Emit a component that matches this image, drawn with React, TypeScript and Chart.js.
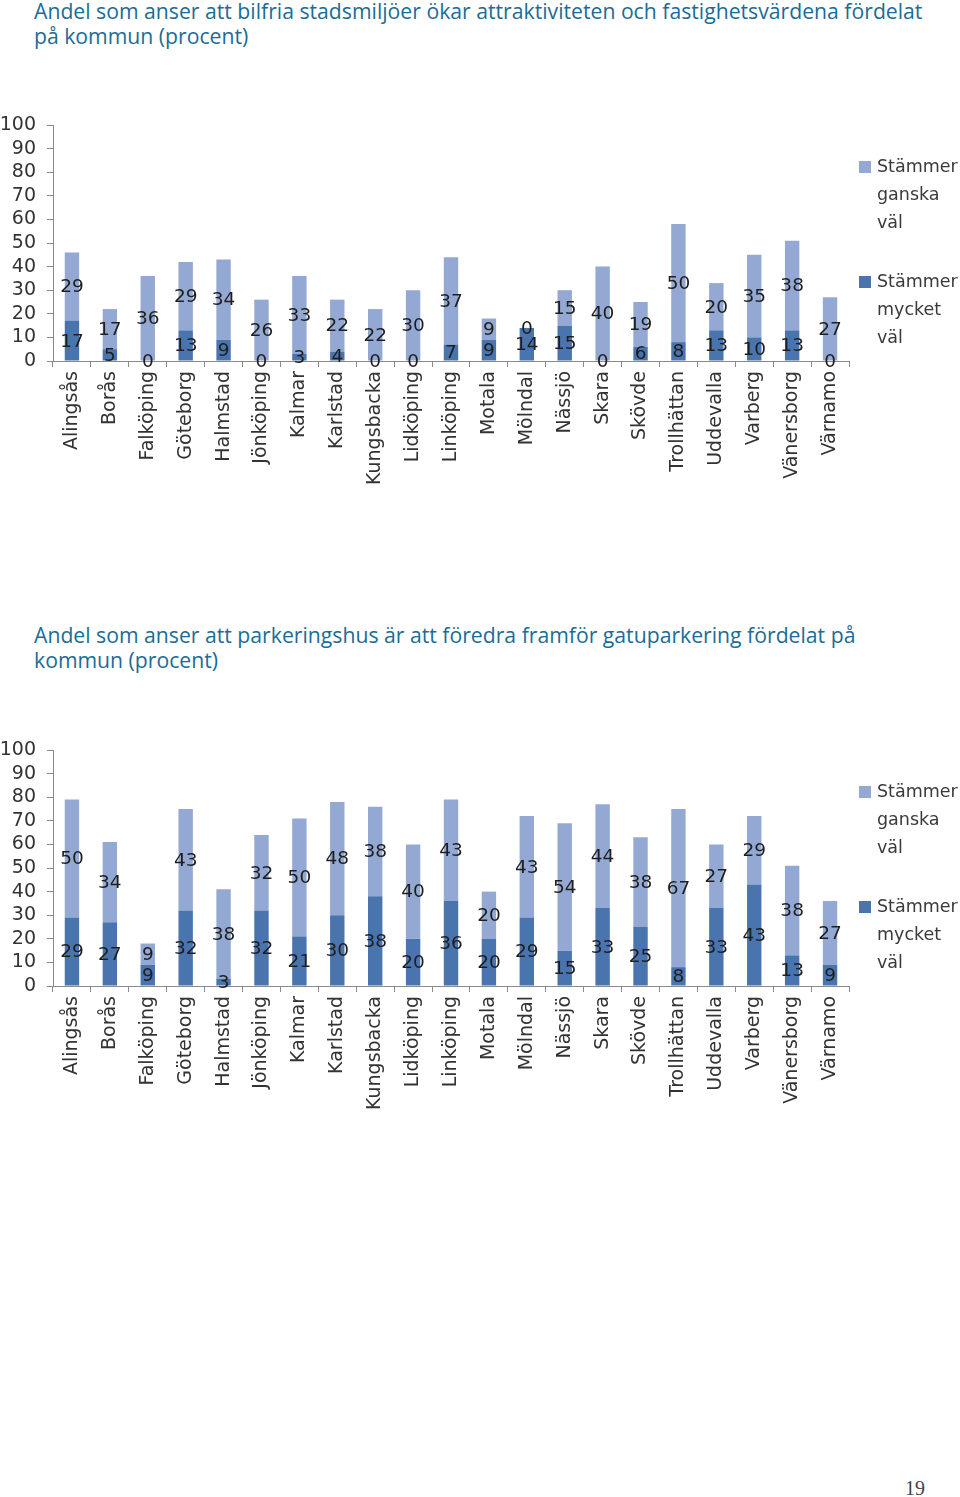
import React, { useEffect, useRef } from "react";
import { Chart, registerables } from "chart.js";

Chart.register(...registerables);

const categories = [
  "Alingsås", "Borås", "Falköping", "Göteborg", "Halmstad", "Jönköping", "Kalmar",
  "Karlstad", "Kungsbacka", "Lidköping", "Linköping", "Motala", "Mölndal", "Nässjö",
  "Skara", "Skövde", "Trollhättan", "Uddevalla", "Varberg", "Vänersborg", "Värnamo",
];

const bilfriaMycket = [17, 5, 0, 13, 9, 0, 3, 4, 0, 0, 7, 9, 14, 15, 0, 6, 8, 13, 10, 13, 0];
const bilfriaGanska = [29, 17, 36, 29, 34, 26, 33, 22, 22, 30, 37, 9, 0, 15, 40, 19, 50, 20, 35, 38, 27];

const parkeringMycket = [29, 27, 9, 32, 3, 32, 21, 30, 38, 20, 36, 20, 29, 15, 33, 25, 8, 33, 43, 13, 9];
const parkeringGanska = [50, 34, 9, 43, 38, 32, 50, 48, 38, 40, 43, 20, 43, 54, 44, 38, 67, 27, 29, 38, 27];

const yMin = 0;
const yMax = 100;
const yStep = 10;

const legendGanska = ["Stämmer", "ganska", "väl"];
const legendMycket = ["Stämmer", "mycket", "väl"];

const title1Lines = [
  "Andel som anser att bilfria stadsmiljöer ökar attraktiviteten och fastighetsvärdena fördelat",
  "på kommun (procent)",
];
const title2Lines = [
  "Andel som anser att parkeringshus är att föredra framför gatuparkering fördelat på",
  "kommun (procent)",
];
const pageNumber = "19";

const LIGHT = "#93a9d3";
const DARK = "#4a74ae";
const AXIS = "#8a8a8a";
const TEXT = "#333333";
const FONT = "DejaVu Sans";

const dataLabelPlugin = {
  id: "segLabels",
  afterDatasetsDraw(chart: any) {
    const ctx = chart.ctx;
    ctx.save();
    ctx.font = `18.5px "${FONT}"`;
    ctx.fillStyle = "#1e1e1e";
    ctx.textAlign = "center";
    ctx.textBaseline = "middle";
    chart.data.datasets.forEach((ds: any, di: number) => {
      const meta = chart.getDatasetMeta(di);
      meta.data.forEach((el: any, i: number) => {
        const p = el.getProps(["x", "y", "base"], true);
        const cy = (p.y + p.base) / 2;
        ctx.fillText(String(ds.data[i]), p.x, cy + 1);
      });
    });
    ctx.restore();
  },
};

const legendPlugin = {
  id: "multiLegend",
  afterDraw(chart: any) {
    const ctx = chart.ctx;
    const area = chart.chartArea;
    const items = [
      { color: LIGHT, lines: legendGanska, top: area.top + 42 },
      { color: DARK, lines: legendMycket, top: area.top + 157 },
    ];
    ctx.save();
    ctx.font = `17.5px "${FONT}"`;
    ctx.textAlign = "left";
    ctx.textBaseline = "middle";
    items.forEach((it) => {
      ctx.fillStyle = it.color;
      ctx.fillRect(area.right + 10, it.top - 6, 12, 12);
      ctx.fillStyle = "#3a3a3a";
      it.lines.forEach((ln, k) => {
        ctx.fillText(ln, area.right + 28, it.top + k * 28);
      });
    });
    ctx.restore();
  },
};

function zeroPad(scale: any) {
  scale.paddingTop = 0;
  scale.paddingBottom = 0;
  scale.paddingLeft = 0;
  scale.paddingRight = 0;
}

function StackChart({ mycket, ganska, top }: { mycket: number[]; ganska: number[]; top: number }) {
  const ref = useRef<HTMLCanvasElement | null>(null);
  useEffect(() => {
    if (!ref.current) return;
    const chart = new Chart(ref.current, {
      type: "bar",
      data: {
        labels: categories,
        datasets: [
          {
            label: "Stämmer mycket väl",
            data: mycket,
            backgroundColor: DARK,
            barPercentage: 0.38,
            categoryPercentage: 1,
          },
          {
            label: "Stämmer ganska väl",
            data: ganska,
            backgroundColor: LIGHT,
            barPercentage: 0.38,
            categoryPercentage: 1,
          },
        ],
      },
      options: {
        animation: false,
        responsive: false,
        maintainAspectRatio: false,
        layout: { padding: { top: 15, right: 111, left: 0, bottom: 0 } },
        plugins: {
          legend: { display: false },
          tooltip: { enabled: false },
          title: { display: false },
        },
        scales: {
          x: {
            stacked: true,
            offset: true,
            grid: {
              offset: true,
              drawOnChartArea: false,
              drawTicks: true,
              tickLength: 6,
              color: AXIS,
            },
            border: { display: true, color: AXIS, width: 1 },
            ticks: {
              autoSkip: false,
              minRotation: 90,
              maxRotation: 90,
              padding: 4,
              color: TEXT,
              font: { family: FONT, size: 19 },
            },
            afterFit: (scale: any) => {
              scale.height = 129;
              zeroPad(scale);
            },
          },
          y: {
            stacked: true,
            min: yMin,
            max: yMax,
            grid: {
              drawOnChartArea: false,
              drawTicks: true,
              tickLength: 6,
              color: AXIS,
            },
            border: { display: true, color: AXIS, width: 1 },
            ticks: {
              stepSize: yStep,
              autoSkip: false,
              padding: 11,
              color: TEXT,
              font: { family: FONT, size: 19 },
            },
            afterFit: (scale: any) => {
              scale.width = 53;
              zeroPad(scale);
            },
          },
        },
      },
      plugins: [dataLabelPlugin, legendPlugin],
    });
    return () => chart.destroy();
  }, [mycket, ganska]);
  return (
    <canvas
      ref={ref}
      width={960}
      height={380}
      style={{ position: "absolute", left: 0, top, width: 960, height: 380 }}
    />
  );
}

const titleStyle: React.CSSProperties = {
  position: "absolute",
  left: 34,
  margin: 0,
  fontFamily: '"Open Sans", "Noto Sans", sans-serif',
  fontSize: 21.2,
  lineHeight: "25px",
  color: "#1b6c96",
  fontWeight: 400,
  whiteSpace: "nowrap",
};

export default function App() {
  return (
    <div style={{ position: "absolute", left: 0, top: 0, width: 960, height: 1497, background: "#fff", overflow: "hidden" }}>
      <div style={{ ...titleStyle, top: -2 }}>
        {title1Lines.map((l, i) => (
          <div key={i}>{l}</div>
        ))}
      </div>
      <StackChart mycket={bilfriaMycket} ganska={bilfriaGanska} top={110} />
      <div style={{ ...titleStyle, top: 622 }}>
        {title2Lines.map((l, i) => (
          <div key={i}>{l}</div>
        ))}
      </div>
      <StackChart mycket={parkeringMycket} ganska={parkeringGanska} top={735} />
      <div
        style={{
          position: "absolute",
          left: 905,
          top: 1477,
          fontFamily: '"Liberation Serif", serif',
          fontSize: 20,
          color: "#444",
        }}
      >
        {pageNumber}
      </div>
    </div>
  );
}
